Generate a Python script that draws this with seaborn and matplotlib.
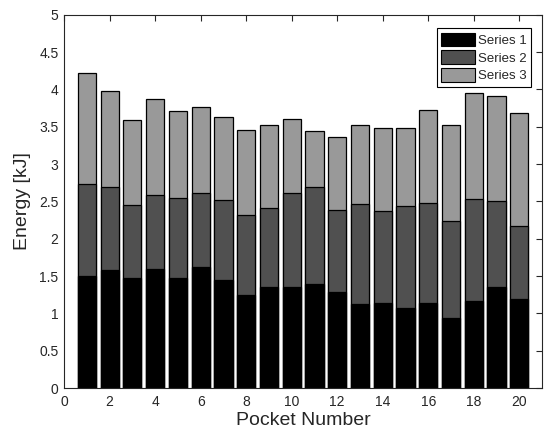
import numpy as np
import pandas as pd
import matplotlib
matplotlib.use('Agg')
import matplotlib.pyplot as plt
import seaborn as sns
from matplotlib.patches import Patch

pockets = list(range(1, 21))
series1 = [1.50, 1.58, 1.47, 1.60, 1.48, 1.62, 1.45, 1.25, 1.36, 1.36,
           1.39, 1.29, 1.12, 1.14, 1.07, 1.14, 0.94, 1.16, 1.36, 1.19]
series2 = [1.24, 1.11, 0.98, 0.99, 1.07, 1.00, 1.07, 1.07, 1.05, 1.26,
           1.30, 1.09, 1.35, 1.23, 1.37, 1.34, 1.30, 1.37, 1.14, 0.98]
series3 = [1.48, 1.29, 1.14, 1.28, 1.16, 1.15, 1.11, 1.14, 1.12, 0.99,
           0.76, 0.98, 1.06, 1.12, 1.04, 1.24, 1.29, 1.42, 1.41, 1.51]
names = ['Series 1', 'Series 2', 'Series 3']
colors = ['#000000', '#505050', '#999999']

df = pd.DataFrame({'Pocket': pockets, 'S1': series1, 'S2': series2, 'S3': series3})
df['c1'] = df['S1']
df['c2'] = df['S1'] + df['S2']
df['c3'] = df['c2'] + df['S3']

sns.set_style('white')
plt.rcParams['font.family'] = ['Liberation Sans', 'DejaVu Sans']

fig = plt.figure(figsize=(5.48, 4.37), dpi=100)
ax = fig.add_axes([0.117, 0.112, 0.872, 0.854])

# stacked by drawing cumulative totals from top down
for col, c in zip(['c3', 'c2', 'c1'], colors[::-1]):
    sns.barplot(data=df, x='Pocket', y=col, native_scale=True, width=0.8,
                color=c, saturation=1, edgecolor='black', linewidth=0.9, ax=ax)

ax.set_xlim(0, 21)
ax.set_ylim(0, 5)
ax.set_xticks(np.arange(0, 21, 2))
ax.set_yticks(np.arange(0, 5.01, 0.5))
ax.set_yticklabels(['0', '0.5', '1', '1.5', '2', '2.5', '3', '3.5', '4', '4.5', '5'])
ax.tick_params(direction='in', length=4, width=0.8, top=True, right=True,
               labelsize=10, colors='#262626', pad=4)
ax.tick_params(axis='x', pad=5)
for s in ax.spines.values():
    s.set_color('#262626')
    s.set_linewidth(0.8)

ax.set_xlabel('Pocket Number', fontsize=14, color='#262626', labelpad=2)
ax.set_ylabel('Energy [kJ]', fontsize=14, color='#262626', labelpad=6)

handles = [Patch(facecolor=c, edgecolor='black', linewidth=0.8) for c in colors]
leg = ax.legend(handles, names, loc='upper right', bbox_to_anchor=(0.978, 0.965),
                fontsize=9.5, frameon=True, fancybox=False, framealpha=1,
                edgecolor='black', handlelength=2.6, handleheight=1.25,
                handletextpad=0.2, borderpad=0.35, labelspacing=0.25,
                borderaxespad=0)
leg.get_frame().set_linewidth(0.8)

fig.savefig('out.png', dpi=100)
